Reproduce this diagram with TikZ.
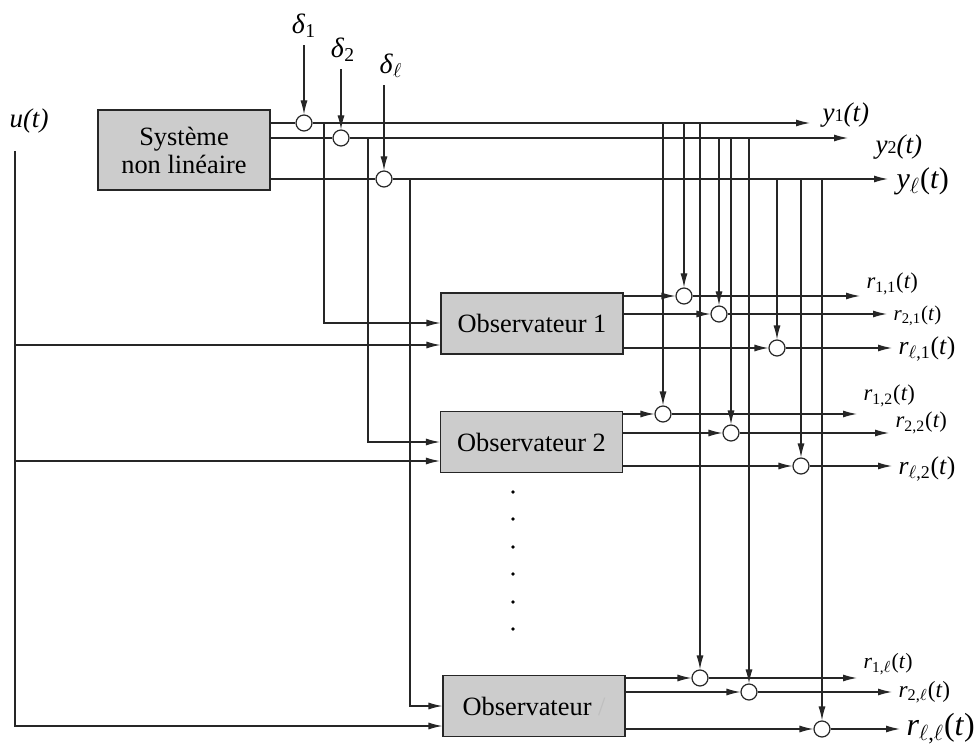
\documentclass[tikz,border=0pt]{standalone}
\usepackage{fontspec}
\setmainfont{Liberation Serif}
\usetikzlibrary{arrows.meta}
\newcommand{\fs}[1]{\fontsize{#1}{#1}\selectfont}
\newcommand{\rsig}[1]{\textit{r}\textsubscript{#1}(\textit{t})}
\begin{document}
\begin{tikzpicture}[x=.5pt,y=-.5pt,>={Latex[length=7pt,width=3.5pt]},line width=.6pt,draw=black!85,
  blk/.style={draw,fill=gray!40,minimum width=91pt,minimum height=30.5pt,font=\fs{13.2}},
  sum/.style={draw,circle,fill=white,minimum size=8pt,inner sep=0pt},
  lbl/.style={anchor=west,inner xsep=3pt,inner ysep=0pt}]
\useasboundingbox(0,0)rectangle(976,749);
\node[blk,minimum width=86pt,minimum height=40pt,align=center,font=\fontsize{13.2}{14}\selectfont](sys)at(184,150){Système\\non linéaire};
\node[blk](obs1)at(532,323.5){Observateur 1};
\node[blk](obs2)at(531.5,442){Observateur 2};
\node[blk](obsL)at(534,706){Observateur {\color{gray!50}/}};
\node[sum](d1)at(304,123){};
\node[sum](d2)at(341,138){};
\node[sum](dL)at(384,179){};
\node[sum](c11)at(684,296){};
\node[sum](c21)at(719,314){};
\node[sum](cL1)at(777,348){};
\node[sum](c12)at(663,414){};
\node[sum](c22)at(731,433){};
\node[sum](cL2)at(801,466){};
\node[sum](c1L)at(700,678){};
\node[sum](c2L)at(749,692){};
\node[sum](cLL)at(822,729){};
\node[font=\fs{14}](ld1)at(304,26){\textit{δ}\textsubscript{1}};
\node[font=\fs{14}](ld2)at(343,50){\textit{δ}\textsubscript{2}};
\node[font=\fs{14}](ldL)at(391,66){\textit{δ}\textsubscript{$\ell$}};
\draw[->](ld1.south-|d1)--(d1);
\draw[->](ld2.south-|d2)--(d2);
\draw[->](ldL.south-|dL)--(dL);
\draw(sys.east|-d1)--(d1);
\draw(sys.east|-d2)--(d2);
\draw(sys.east|-dL)--(dL);
\node[lbl,inner sep=0pt,font=\fs{13.5}](y1)at(822,115){\textit{y}{\fs{9}1}\textit{(t)}};
\node[lbl,inner sep=0pt,font=\fs{13.5}](y2)at(875,147){\textit{y}{\fs{9}2}\textit{(t)}};
\node[lbl,inner sep=0pt,font=\fs{15}](yL)at(896,181){\textit{y}\textsubscript{$\ell$}(\textit{t})};
\coordinate(ty1)at(810,123);
\coordinate(ty2)at(848,138);
\coordinate(tyL)at(888,179);
\draw[->](d1)--(ty1);
\draw[->](d2)--(ty2);
\draw[->](dL)--(tyL);
\node[font=\fs{13.5}](u)at(29,121){\textit{u(t)}};
\coordinate(u0)at(15,151);
\coordinate(u1)at(15,345);
\coordinate(u2)at(15,461);
\coordinate(uL)at(15,726);
\draw[->](u0)--(uL)--(uL-|obsL.west);
\draw[->](u1)--(u1-|obs1.west);
\draw[->](u2)--(u2-|obs2.west);
\coordinate(k1)at(324,323);
\coordinate(k2)at(368,442);
\coordinate(kL)at(410,706);
\draw[->](k1|-d1)--(k1)--(k1-|obs1.west);
\draw[->](k2|-d2)--(k2)--(k2-|obs2.west);
\draw[->](kL|-dL)--(kL)--(kL-|obsL.west);
\draw[->](c11|-d1)--(c11);
\draw[->](c12|-d1)--(c12);
\draw[->](c1L|-d1)--(c1L);
\draw[->](c21|-d2)--(c21);
\draw[->](c22|-d2)--(c22);
\draw[->](c2L|-d2)--(c2L);
\draw[->](cL1|-dL)--(cL1);
\draw[->](cL2|-dL)--(cL2);
\draw[->](cLL|-dL)--(cLL);
\draw[->](obs1.east|-c11)--(c11);
\draw[->](obs1.east|-c21)--(c21);
\draw[->](obs1.east|-cL1)--(cL1);
\draw[->](obs2.east|-c12)--(c12);
\draw[->](obs2.east|-c22)--(c22);
\draw[->](obs2.east|-cL2)--(cL2);
\draw[->](obsL.east|-c1L)--(c1L);
\draw[->](obsL.east|-c2L)--(c2L);
\draw[->](obsL.east|-cLL)--(cLL);
\node[lbl,font=\fs{11.3}](r11)at(860,284){\rsig{1,1}};
\node[lbl,font=\fs{10.5}](r21)at(887,316){\rsig{2,1}};
\node[lbl,font=\fs{12.8}](rL1)at(892,349){\rsig{$\ell$,1}};
\node[lbl,font=\fs{11.3}](r12)at(857,396){\rsig{1,2}};
\node[lbl,font=\fs{11.3}](r22)at(889,423){\rsig{2,2}};
\node[lbl,font=\fs{12.8}](rL2)at(892,469){\rsig{$\ell$,2}};
\node[lbl,font=\fs{10.9}](r1L)at(857,664){\rsig{1,$\ell$}};
\node[lbl,font=\fs{11.6}](r2L)at(892,692){\rsig{2,$\ell$}};
\node[lbl,font=\fs{16}](rLL)at(900,729){\rsig{$\ell$,$\ell$}};
\draw[->](c11)--(c11-|r11.west);
\draw[->](c21)--(c21-|r21.west);
\draw[->](cL1)--(cL1-|rL1.west);
\draw[->](c12)--(c12-|r12.west);
\draw[->](c22)--(c22-|r22.west);
\draw[->](cL2)--(cL2-|rL2.west);
\draw[->](c1L)--(c1L-|r1L.west);
\draw[->](c2L)--(c2L-|r2L.west);
\draw[->](cLL)--(cLL-|rLL.west);
\foreach \y in {492,519,547,574,602,629}\fill(513,\y)circle[radius=1.8];
\end{tikzpicture}
\end{document}
